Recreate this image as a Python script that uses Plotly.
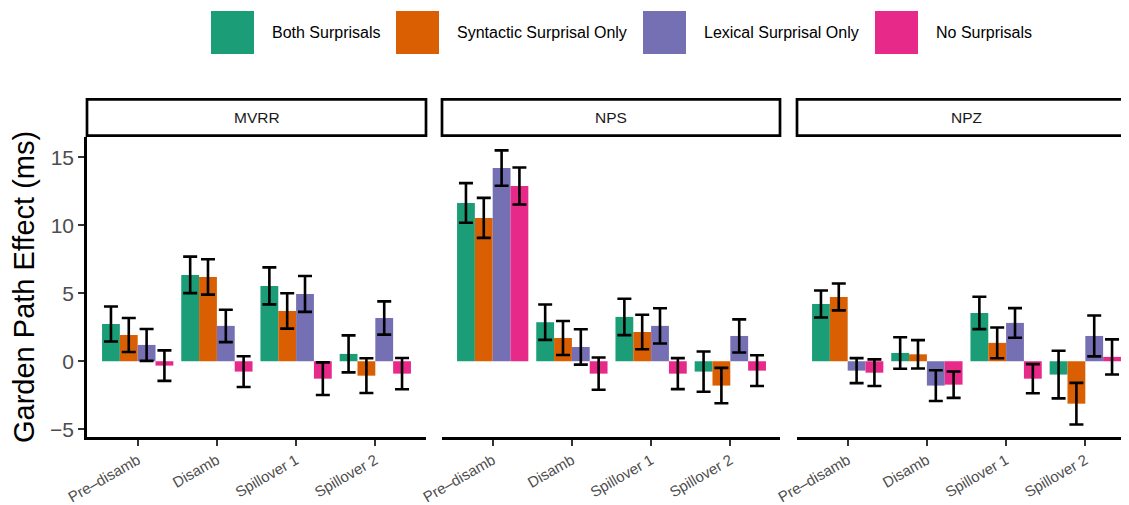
import plotly.graph_objects as go

# The page body adds an 8px margin, so the figure is offset by 8px in the window.
OFF = 8
WIN_W, WIN_H = 1129, 505
W, H = WIN_W - OFF, WIN_H - OFF

CATEGORIES = ["Pre–disamb", "Disamb", "Spillover 1", "Spillover 2"]
PANELS = ["MVRR", "NPS", "NPZ"]
SERIES = ["Both Surprisals", "Syntactic Surprisal Only", "Lexical Surprisal Only", "No Surprisals"]
COLORS = ["#1B9E77", "#D95F02", "#7570B3", "#E7298A"]

# Mean garden-path effect (ms) and error half-widths, per panel and condition
MVRR_BOTH = [2.74, 6.35, 5.54, 0.54]
MVRR_BOTH_ERR = [1.29, 1.34, 1.36, 1.36]
MVRR_SYN = [1.93, 6.20, 3.70, -1.06]
MVRR_SYN_ERR = [1.25, 1.30, 1.30, 1.28]
MVRR_LEX = [1.20, 2.60, 4.95, 3.18]
MVRR_LEX_ERR = [1.17, 1.19, 1.32, 1.22]
MVRR_NONE = [-0.32, -0.76, -1.28, -0.91]
MVRR_NONE_ERR = [1.12, 1.13, 1.20, 1.15]

NPS_BOTH = [11.64, 2.87, 3.26, -0.76]
NPS_BOTH_ERR = [1.46, 1.30, 1.34, 1.48]
NPS_SYN = [10.54, 1.71, 2.15, -1.79]
NPS_SYN_ERR = [1.47, 1.25, 1.27, 1.30]
NPS_LEX = [14.21, 1.05, 2.60, 1.86]
NPS_LEX_ERR = [1.30, 1.30, 1.30, 1.22]
NPS_NONE = [12.89, -0.91, -0.91, -0.69]
NPS_NONE_ERR = [1.36, 1.19, 1.14, 1.13]

NPZ_BOTH = [4.21, 0.61, 3.55, -0.98]
NPZ_BOTH_ERR = [0.99, 1.16, 1.19, 1.75]
NPZ_SYN = [4.73, 0.51, 1.35, -3.12]
NPZ_SYN_ERR = [0.99, 1.04, 1.13, 1.53]
NPZ_LEX = [-0.69, -1.79, 2.82, 1.86]
NPZ_LEX_ERR = [0.92, 1.13, 1.09, 1.50]
NPZ_NONE = [-0.84, -1.72, -1.28, 0.32]
NPZ_NONE_ERR = [0.98, 0.97, 1.07, 1.29]

Y_TICKS = [-5, 0, 5, 10, 15]

MEANS = {
    "MVRR": [MVRR_BOTH, MVRR_SYN, MVRR_LEX, MVRR_NONE],
    "NPS": [NPS_BOTH, NPS_SYN, NPS_LEX, NPS_NONE],
    "NPZ": [NPZ_BOTH, NPZ_SYN, NPZ_LEX, NPZ_NONE],
}
ERRS = {
    "MVRR": [MVRR_BOTH_ERR, MVRR_SYN_ERR, MVRR_LEX_ERR, MVRR_NONE_ERR],
    "NPS": [NPS_BOTH_ERR, NPS_SYN_ERR, NPS_LEX_ERR, NPS_NONE_ERR],
    "NPZ": [NPZ_BOTH_ERR, NPZ_SYN_ERR, NPZ_LEX_ERR, NPZ_NONE_ERR],
}

FONT = "Liberation Sans, Arial, Helvetica, sans-serif"

# layout in window pixels
PANEL_PX = [(87, 426), (442, 780), (797, 1136)]
PLOT_TOP, PLOT_BOT = 137, 437
STRIP_TOP, STRIP_BOT = 99.3, 135.7
PX_PER_UNIT = 339 / 4.28


def px(x):
    return (x - OFF) / W


def py(y):
    return 1 - (y - OFF) / H


fig = go.Figure()

for i, panel in enumerate(PANELS):
    sfx = "" if i == 0 else str(i + 1)
    for j, name in enumerate(SERIES):
        fig.add_trace(go.Bar(
            x=CATEGORIES,
            y=MEANS[panel][j],
            name=name,
            marker=dict(color=COLORS[j], line=dict(width=0)),
            error_y=dict(type="data", array=ERRS[panel][j], visible=True,
                         color="black", thickness=2.6, width=7),
            xaxis="x" + sfx, yaxis="y" + sfx,
            showlegend=False,
        ))

layout = dict(
    width=W, height=H,
    margin=dict(l=0, r=0, t=0, b=0),
    paper_bgcolor="white", plot_bgcolor="white",
    barmode="group", bargap=0.1, bargroupgap=0,
    font=dict(family=FONT, color="#1a1a1a"),
)

for i, panel in enumerate(PANELS):
    sfx = "" if i == 0 else str(i + 1)
    left, right = PANEL_PX[i]
    right_vis = min(right, WIN_W)
    xr = [-0.64, -0.64 + (right_vis - left) / PX_PER_UNIT]
    layout["xaxis" + sfx] = dict(
        domain=[px(left), min(px(right_vis), 1.0)],
        anchor="y" + sfx,
        type="category",
        range=xr,
        showline=True, linecolor="black", linewidth=2.5,
        ticks="outside", ticklen=6, tickwidth=2, tickcolor="#333333",
        tickangle=-30,
        tickfont=dict(family=FONT, size=15, color="#4d4d4d"),
        showgrid=False, zeroline=False, automargin=False, fixedrange=True,
    )
    ydict = dict(
        domain=[py(PLOT_BOT), py(PLOT_TOP)],
        anchor="x" + sfx,
        range=[-5.57, 16.49],
        showgrid=False, zeroline=False, automargin=False, fixedrange=True,
    )
    if i == 0:
        ydict.update(
            tickvals=Y_TICKS,
            showline=True, linecolor="black", linewidth=2.5,
            ticks="outside", ticklen=6, tickwidth=2, tickcolor="#333333",
            tickfont=dict(family=FONT, size=21, color="#4d4d4d"),
        )
    else:
        ydict.update(matches="y", showticklabels=False, showline=False, ticks="")
    layout["yaxis" + sfx] = ydict

fig.update_layout(**layout)

shapes = []
annotations = []
# facet strips
for i, panel in enumerate(PANELS):
    left, right = PANEL_PX[i]
    shapes.append(dict(type="rect", xref="paper", yref="paper",
                       x0=px(left), x1=px(right), y0=py(STRIP_BOT), y1=py(STRIP_TOP),
                       line=dict(color="black", width=2.7), fillcolor="white", layer="above"))
    annotations.append(dict(xref="paper", yref="paper", x=px((left + right) / 2),
                            y=py((STRIP_TOP + STRIP_BOT) / 2), text=panel, showarrow=False,
                            xanchor="center", yanchor="middle",
                            font=dict(family=FONT, size=15.5, color="#1a1a1a")))

# y-axis title
annotations.append(dict(xref="paper", yref="paper", x=px(23.5), y=py(287.5),
                        text="Garden Path Effect (ms)", textangle=-90, showarrow=False,
                        xanchor="center", yanchor="middle",
                        font=dict(family=FONT, size=29, color="black")))

# legend (keys + labels)
KEY_X = [211, 396, 643, 875]
for j, name in enumerate(SERIES):
    kx = KEY_X[j]
    shapes.append(dict(type="rect", xref="paper", yref="paper",
                       x0=px(kx), x1=px(kx + 43), y0=py(54), y1=py(11),
                       line=dict(width=0), fillcolor=COLORS[j]))
    annotations.append(dict(xref="paper", yref="paper", x=px(kx + 59), y=py(32.5),
                            text=name, showarrow=False, xanchor="left", yanchor="middle",
                            font=dict(family=FONT, size=16, color="black")))

fig.update_layout(shapes=shapes, annotations=annotations)
fig.write_html("out.html")
